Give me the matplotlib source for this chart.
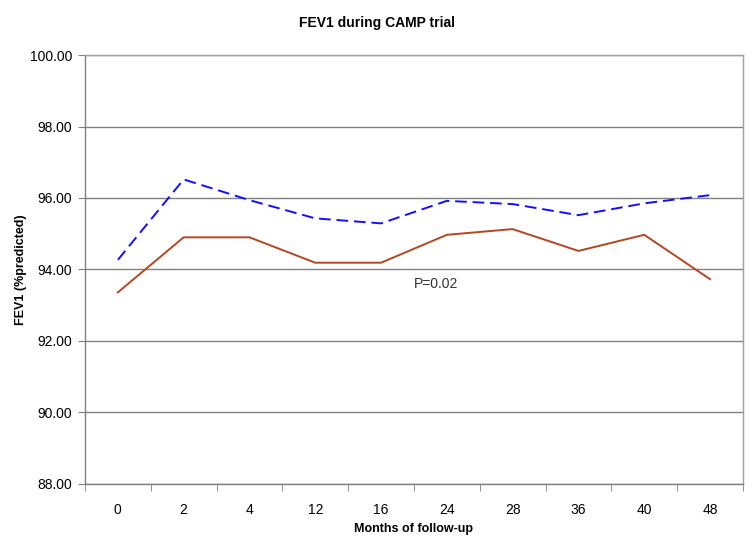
import numpy as np
import matplotlib.pyplot as plt

plt.rcParams['font.family'] = ['Liberation Sans', 'DejaVu Sans']

months = ['0', '2', '4', '12', '16', '24', '28', '36', '40', '48']
blue_vals = [94.27, 96.52, 95.94, 95.43, 95.29, 95.92, 95.83, 95.52, 95.85, 96.08]
red_vals = [93.36, 94.90, 94.90, 94.19, 94.19, 94.97, 95.13, 94.52, 94.97, 93.73]

fig = plt.figure(figsize=(7.54, 5.43), dpi=100)
ax = fig.add_axes([0.1127, 0.1087, 0.8726, 0.79])

x = np.arange(len(months))
ax.plot(x, blue_vals, color='#1010ff', linestyle=(0, (6, 3)), linewidth=1.4)
ax.plot(x, red_vals, color='#b5461f', linewidth=1.4)

ax.set_xlim(-0.5, len(months) - 0.5)
ax.set_ylim(88, 100)
ax.set_yticks(np.arange(88, 100.1, 2))
ax.set_yticklabels(['%.2f' % v for v in np.arange(88, 100.1, 2)])
ax.set_xticks(x)
ax.set_xticklabels(months)
ax.set_xticks(np.arange(-0.5, len(months), 1), minor=True)
ax.tick_params(axis='x', which='major', length=0, pad=14, labelsize=10)
ax.tick_params(axis='x', which='minor', length=5, color='#808080', direction='out')
ax.tick_params(axis='y', length=5, color='#808080', labelsize=10, pad=4)

ax.grid(axis='y', color='#808080', linewidth=1)
ax.set_axisbelow(True)
for s in ax.spines.values():
    s.set_color('#a0a0a0')
    s.set_linewidth(1)
ax.spines['left'].set_color('#808080')
ax.spines['bottom'].set_color('#808080')

ax.set_xlabel('Months of follow-up', fontsize=9, fontweight='bold', labelpad=4)
ax.set_ylabel('FEV1 (%predicted)', fontsize=9, fontweight='bold', labelpad=2)
fig.suptitle('FEV1 during CAMP trial', fontsize=10, fontweight='bold', y=0.97)

ax.text(4.5, 93.6, 'P=0.02', fontsize=10, color='#333333', ha='left', va='center')

fig.savefig('out.png', dpi=100)
